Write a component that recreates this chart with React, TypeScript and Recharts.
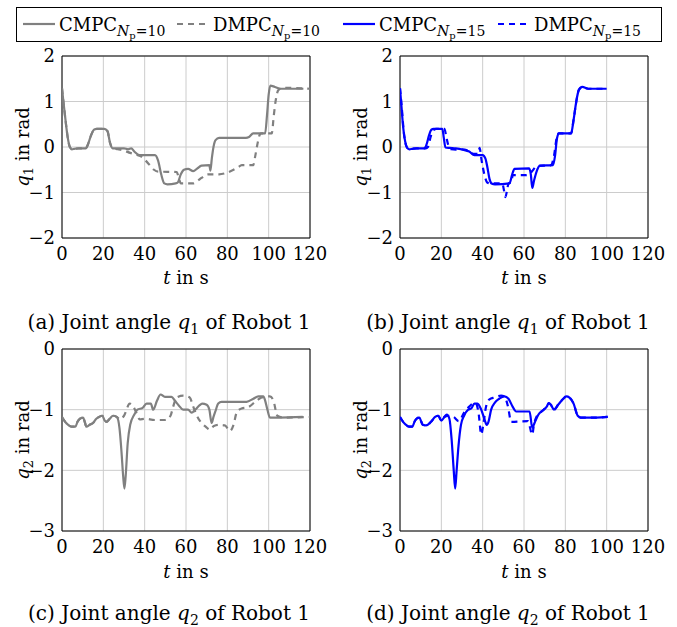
import React from 'react';
import { LineChart, Line, XAxis, YAxis, CartesianGrid, ReferenceArea } from 'recharts';

const FONT = "'DejaVu Serif', 'Liberation Serif', serif";
const GRAY = '#808080';
const BLUE = '#0000ff';

const timeTicks = [0, 20, 40, 60, 80, 100, 120];
const q1Ticks = [-2, -1, 0, 1, 2];
const q2Ticks = [-3, -2, -1, 0];

// (a) q1, Np = 10
const tA_cmpc = [0, 0.8, 1.8, 2.8, 3.8, 4.8, 6, 8, 11.5, 12.5, 14, 15.5, 16.8, 20.5, 22, 23.2, 24.5, 26, 30, 32, 33.5, 35, 37.5, 45, 46.5, 48, 49.5, 51, 55, 56, 57.5, 59, 61, 63.5, 65.5, 67.5, 71.3, 71.8, 72.5, 73.3, 74.3, 76, 89, 90.5, 92.5, 98.3, 99.2, 100, 100.8, 103, 106, 116.8];
const qA_cmpc = [1.29, 0.95, 0.55, 0.2, 0.0, -0.05, -0.04, -0.03, -0.03, 0.05, 0.25, 0.38, 0.4, 0.4, 0.35, 0.1, -0.03, -0.03, -0.03, -0.05, -0.03, -0.1, -0.18, -0.18, -0.3, -0.6, -0.8, -0.82, -0.8, -0.78, -0.6, -0.5, -0.48, -0.53, -0.47, -0.41, -0.4, -0.52, -0.25, 0.0, 0.15, 0.2, 0.2, 0.22, 0.3, 0.3, 0.7, 1.15, 1.35, 1.32, 1.28, 1.28];
const tA_dmpc = [0, 0.8, 1.8, 2.8, 3.8, 5, 8, 11.5, 12.5, 14, 15.5, 16.8, 20.5, 22, 23.2, 24.5, 27, 30, 33, 36, 38, 40.5, 42.5, 44.5, 46.5, 55.5, 56.5, 57.5, 63.5, 65.5, 67.5, 70.5, 76, 79.5, 83, 85, 87, 92.5, 93.5, 94.5, 95.8, 96.5, 101.5, 102.5, 103.5, 104.7, 107, 120];
const qA_dmpc = [1.29, 0.95, 0.55, 0.2, 0.0, -0.04, -0.03, -0.03, 0.05, 0.25, 0.38, 0.4, 0.4, 0.35, 0.1, -0.03, -0.05, -0.08, -0.13, -0.17, -0.2, -0.3, -0.4, -0.5, -0.54, -0.55, -0.68, -0.8, -0.8, -0.75, -0.68, -0.6, -0.6, -0.57, -0.5, -0.45, -0.4, -0.4, -0.2, 0.05, 0.28, 0.3, 0.3, 0.7, 1.05, 1.25, 1.3, 1.28];

// (b) q1, Np = 15
const tB_cmpc = [0, 0.7, 1.5, 2.5, 3.5, 4.5, 6, 8, 11.8, 12.8, 14, 15.2, 16.3, 20.5, 21.2, 22, 24, 27, 30.5, 33.5, 36, 40, 41.3, 42.3, 43.3, 44.3, 46, 53, 54.3, 55.4, 62.5, 63.3, 64, 64.8, 66, 67.8, 74, 75, 76, 77, 82.8, 84, 85.3, 86.5, 88.2, 91, 100];
const qB_cmpc = [1.29, 0.9, 0.45, 0.12, -0.02, -0.05, -0.04, -0.03, -0.03, 0.05, 0.25, 0.38, 0.4, 0.4, 0.2, -0.01, -0.02, -0.03, -0.06, -0.1, -0.18, -0.18, -0.25, -0.45, -0.7, -0.8, -0.82, -0.8, -0.6, -0.48, -0.47, -0.6, -0.9, -0.75, -0.55, -0.41, -0.4, -0.2, 0.2, 0.3, 0.3, 0.6, 1.0, 1.25, 1.32, 1.28, 1.28];
const tB_dmpc = [0, 0.8, 1.8, 2.8, 3.8, 5, 8, 12.5, 13.5, 15, 16.5, 17.5, 21.5, 22.3, 23.3, 24.7, 27, 30, 33, 35.5, 37.8, 38.5, 39.5, 40.8, 42.2, 43.5, 49.5, 50.3, 51, 51.8, 52.5, 53.8, 54.6, 61, 62.5, 64.5, 66, 73, 74.5, 75.8, 76.8, 82.8, 84, 85.3, 86.5, 88.2, 91, 100];
const qB_dmpc = [1.29, 0.9, 0.35, 0.05, -0.03, -0.04, -0.03, -0.03, 0.0, 0.25, 0.38, 0.4, 0.4, 0.25, 0.05, -0.05, -0.06, -0.05, -0.08, -0.15, -0.15, -0.02, -0.3, -0.6, -0.78, -0.8, -0.8, -0.95, -1.1, -0.95, -0.8, -0.78, -0.62, -0.62, -0.6, -0.5, -0.42, -0.4, -0.2, 0.2, 0.3, 0.3, 0.6, 1.0, 1.25, 1.32, 1.28, 1.28];

// (c) q2, Np = 10
const tC_cmpc = [0, 1.5, 3, 4.5, 6.5, 7.5, 8.6, 10.2, 11, 11.8, 13.4, 15, 16.6, 17.9, 19.5, 20.7, 21.5, 23.1, 24.7, 26.5, 27.8, 28.8, 29.6, 30.2, 30.8, 31.8, 33, 35, 36.5, 39, 40.9, 43, 44.1, 46, 47.7, 49.8, 53, 54.6, 56.5, 58.6, 61, 62.7, 64.5, 66.5, 67.8, 70, 71.3, 72.4, 73.3, 74.2, 75.6, 77.2, 89.3, 92.6, 95, 97.4, 98.3, 99.4, 100.6, 105, 116.5];
const qC_cmpc = [-1.12, -1.2, -1.25, -1.28, -1.28, -1.2, -1.15, -1.13, -1.2, -1.28, -1.25, -1.22, -1.15, -1.12, -1.1, -1.18, -1.2, -1.15, -1.1, -1.12, -1.3, -1.7, -2.1, -2.3, -2.1, -1.55, -1.25, -1.08, -1.0, -0.97, -0.9, -0.9, -1.0, -0.85, -0.75, -0.79, -0.79, -0.85, -0.93, -1.0, -1.0, -1.05, -1.0, -0.93, -0.9, -0.92, -1.0, -1.22, -1.12, -1.03, -0.9, -0.87, -0.87, -0.82, -0.78, -0.78, -0.85, -1.0, -1.13, -1.13, -1.12];
const tC_dmpc = [0, 1.5, 3, 4.5, 6.5, 7.5, 8.6, 10.2, 11, 11.8, 13.4, 15, 16.6, 17.9, 19.5, 20.7, 21.5, 23.1, 24.7, 26.5, 28, 30, 32.8, 34.5, 36, 37.6, 40, 45, 50, 52.5, 53.8, 55.4, 58.6, 61.8, 63.5, 65, 67.5, 69.5, 71.6, 73.5, 76, 78.8, 81.3, 83, 84.5, 86.9, 90, 94.2, 96.6, 100.6, 102.3, 104.2, 107, 120];
const qC_dmpc = [-1.12, -1.2, -1.25, -1.28, -1.28, -1.2, -1.15, -1.13, -1.2, -1.28, -1.25, -1.22, -1.15, -1.12, -1.1, -1.18, -1.2, -1.15, -1.1, -1.12, -1.16, -1.1, -0.9, -0.95, -1.05, -1.16, -1.15, -1.17, -1.17, -1.1, -0.95, -0.8, -0.77, -0.8, -0.95, -1.08, -1.22, -1.28, -1.33, -1.27, -1.25, -1.26, -1.35, -1.25, -1.05, -0.98, -0.96, -0.85, -0.8, -0.78, -0.85, -1.1, -1.13, -1.12];

// (d) q2, Np = 15
const tD_cmpc = [0, 1.5, 2.9, 4.5, 6, 7, 8, 9.4, 10.3, 11, 12.6, 15, 17, 18.5, 20, 21.5, 22.6, 23.9, 25, 26, 26.7, 27.4, 28.3, 29.5, 31, 33, 34.5, 36, 37.5, 39.3, 40.8, 42, 42.8, 44.1, 46, 48, 50.5, 52.5, 54.5, 56.2, 62.7, 64, 65.1, 67, 69.5, 71, 72, 73, 74.5, 76.5, 79, 80.5, 82, 84, 86, 87.5, 95, 100.5];
const qD_cmpc = [-1.12, -1.2, -1.25, -1.28, -1.28, -1.2, -1.15, -1.13, -1.2, -1.25, -1.26, -1.2, -1.12, -1.1, -1.18, -1.12, -1.08, -1.15, -1.5, -2.0, -2.3, -2.0, -1.6, -1.25, -1.1, -1.0, -0.98, -0.9, -0.9, -1.0, -1.15, -1.25, -1.2, -1.0, -0.88, -0.82, -0.78, -0.82, -0.95, -1.03, -1.03, -1.3, -1.22, -1.08, -1.0, -0.95, -0.89, -0.92, -1.0, -0.92, -0.82, -0.78, -0.8, -0.9, -1.1, -1.13, -1.13, -1.12];
const tD_dmpc = [0, 1.5, 2.9, 4.5, 6, 7, 8, 9.4, 10.3, 11, 12.6, 15, 17, 18.5, 20, 21.5, 24, 26, 28.4, 31, 33.5, 36, 37, 38.1, 39.3, 40.2, 41.7, 43.3, 45.7, 48.9, 50.5, 52.2, 53.8, 61.9, 64, 64.8, 66, 67, 69.5, 71, 72, 73, 74.5, 76.5, 79, 80.5, 82, 84, 86, 87.5, 95, 100.5];
const qD_dmpc = [-1.12, -1.2, -1.25, -1.28, -1.28, -1.2, -1.15, -1.13, -1.2, -1.25, -1.26, -1.2, -1.12, -1.1, -1.18, -1.12, -1.1, -1.12, -1.19, -1.05, -0.95, -0.89, -0.91, -1.08, -1.41, -1.27, -0.94, -0.83, -0.8, -0.77, -0.78, -0.94, -1.2, -1.19, -1.41, -1.25, -1.12, -1.08, -1.0, -0.95, -0.89, -0.92, -1.0, -0.92, -0.82, -0.78, -0.8, -0.9, -1.1, -1.13, -1.13, -1.12];

const zip = (t: number[], q: number[]) => t.map((x, i) => ({ t: x, q: q[i] }));
const minus = (v: number) => String(v).replace('-', '\u2212');

type Series = { data: { t: number; q: number }[]; color: string; dashed: boolean; name: string };

function Panel({ left, top, yDomain, yTicks, series }: { left: number; top: number; yDomain: [number, number]; yTicks: number[]; series: Series[] }) {
  const tickStyle = { fill: '#000', fontSize: 18, fontFamily: FONT };
  return (
    <div style={{ position: 'absolute', left, top }}>
      <LineChart width={330} height={300} margin={{ top: 56, right: 20, bottom: 0, left: 0 }}>
        <CartesianGrid stroke="#cccccc" strokeWidth={1} />
        <XAxis
          dataKey="t"
          type="number"
          domain={[0, 120]}
          ticks={timeTicks}
          interval={0}
          allowDataOverflow
          height={62}
          tickSize={0}
          tickMargin={9}
          axisLine={false}
          tickLine={false}
          tick={tickStyle}
        />
        <YAxis
          type="number"
          domain={yDomain}
          ticks={yTicks}
          interval={0}
          allowDataOverflow
          width={62}
          tickSize={0}
          tickMargin={7}
          axisLine={false}
          tickLine={false}
          tick={tickStyle}
          tickFormatter={minus}
        />
        <ReferenceArea x1={0} x2={120} y1={yDomain[0]} y2={yDomain[1]} fill="none" fillOpacity={0} stroke="#000" strokeWidth={1} ifOverflow="visible" />
        {series.map((s) => (
          <Line
            key={s.name}
            data={s.data}
            dataKey="q"
            name={s.name}
            type="monotoneX"
            stroke={s.color}
            strokeWidth={2.2}
            strokeDasharray={s.dashed ? '6 5' : undefined}
            dot={false}
            activeDot={false}
            isAnimationActive={false}
            strokeLinejoin="round"
          />
        ))}
      </LineChart>
    </div>
  );
}

function LegendEntry({ x, color, dashed, label, sub }: { x: number; color: string; dashed: boolean; label: string; sub: string }) {
  return (
    <g>
      <line x1={x} x2={x + 32} y1={24} y2={24} stroke={color} strokeWidth={2.2} strokeDasharray={dashed ? '6 5' : undefined} />
      <text x={x + 36} y={31} fontSize={18} fontFamily={FONT} fill="#000">
        {label}
        <tspan dy={5} fontSize={14} fontStyle="italic">N</tspan>
        <tspan dy={3} fontSize={10}>p</tspan>
        <tspan dy={-3} fontSize={14}>{'=' + sub}</tspan>
      </text>
    </g>
  );
}

function YTitle({ x, y, idx }: { x: number; y: number; idx: string }) {
  return (
    <text x={x} y={y} transform={`rotate(-90, ${x}, ${y})`} textAnchor="middle" fontSize={18} fontFamily={FONT} fill="#000">
      <tspan fontStyle="italic">q</tspan>
      <tspan dy={4} fontSize={13}>{idx}</tspan>
      <tspan dy={-4}> in rad</tspan>
    </text>
  );
}

function XTitle({ x, y }: { x: number; y: number }) {
  return (
    <text x={x} y={y} textAnchor="middle" fontSize={18} fontFamily={FONT} fill="#000">
      <tspan fontStyle="italic">t</tspan>
      <tspan> in s</tspan>
    </text>
  );
}

function Caption({ x, y, letter, idx }: { x: number; y: number; letter: string; idx: string }) {
  return (
    <text x={x} y={y} textAnchor="middle" fontSize={20} fontFamily={FONT} fill="#000">
      {`(${letter}) Joint angle `}
      <tspan fontStyle="italic">q</tspan>
      <tspan dy={5} fontSize={14}>{idx}</tspan>
      <tspan dy={-5}>{' of Robot 1'}</tspan>
    </text>
  );
}

export default function App() {
  const aSeries: Series[] = [
    { name: 'CMPC10', data: zip(tA_cmpc, qA_cmpc), color: GRAY, dashed: false },
    { name: 'DMPC10', data: zip(tA_dmpc, qA_dmpc), color: GRAY, dashed: true },
  ];
  const bSeries: Series[] = [
    { name: 'CMPC15', data: zip(tB_cmpc, qB_cmpc), color: BLUE, dashed: false },
    { name: 'DMPC15', data: zip(tB_dmpc, qB_dmpc), color: BLUE, dashed: true },
  ];
  const cSeries: Series[] = [
    { name: 'CMPC10', data: zip(tC_cmpc, qC_cmpc), color: GRAY, dashed: false },
    { name: 'DMPC10', data: zip(tC_dmpc, qC_dmpc), color: GRAY, dashed: true },
  ];
  const dSeries: Series[] = [
    { name: 'CMPC15', data: zip(tD_cmpc, qD_cmpc), color: BLUE, dashed: false },
    { name: 'DMPC15', data: zip(tD_dmpc, qD_dmpc), color: BLUE, dashed: true },
  ];
  return (
    <div style={{ position: 'absolute', left: 0, top: 0, width: 677, height: 627, background: '#fff', overflow: 'hidden' }}>
      <Panel left={0} top={0} yDomain={[-2, 2]} yTicks={q1Ticks} series={aSeries} />
      <Panel left={338} top={0} yDomain={[-2, 2]} yTicks={q1Ticks} series={bSeries} />
      <Panel left={0} top={293} yDomain={[-3, 0]} yTicks={q2Ticks} series={cSeries} />
      <Panel left={338} top={293} yDomain={[-3, 0]} yTicks={q2Ticks} series={dSeries} />
      <svg width={677} height={627} style={{ position: 'absolute', left: 0, top: 0, pointerEvents: 'none' }}>
        <rect x={16.5} y={7.5} width={645} height={34} fill="#fff" stroke="#000" strokeWidth={1} />
        <LegendEntry x={23} color={GRAY} dashed={false} label="CMPC" sub="10" />
        <LegendEntry x={177} color={GRAY} dashed={true} label="DMPC" sub="10" />
        <LegendEntry x={343} color={BLUE} dashed={false} label="CMPC" sub="15" />
        <LegendEntry x={498} color={BLUE} dashed={true} label="DMPC" sub="15" />
        <YTitle x={29} y={147} idx="1" />
        <YTitle x={367} y={147} idx="1" />
        <YTitle x={29} y={440} idx="2" />
        <YTitle x={367} y={440} idx="2" />
        <XTitle x={186} y={284} />
        <XTitle x={524} y={284} />
        <XTitle x={186} y={578} />
        <XTitle x={524} y={578} />
        <Caption x={169} y={329} letter="a" idx="1" />
        <Caption x={508} y={329} letter="b" idx="1" />
        <Caption x={169} y={620} letter="c" idx="2" />
        <Caption x={508} y={620} letter="d" idx="2" />
      </svg>
    </div>
  );
}
